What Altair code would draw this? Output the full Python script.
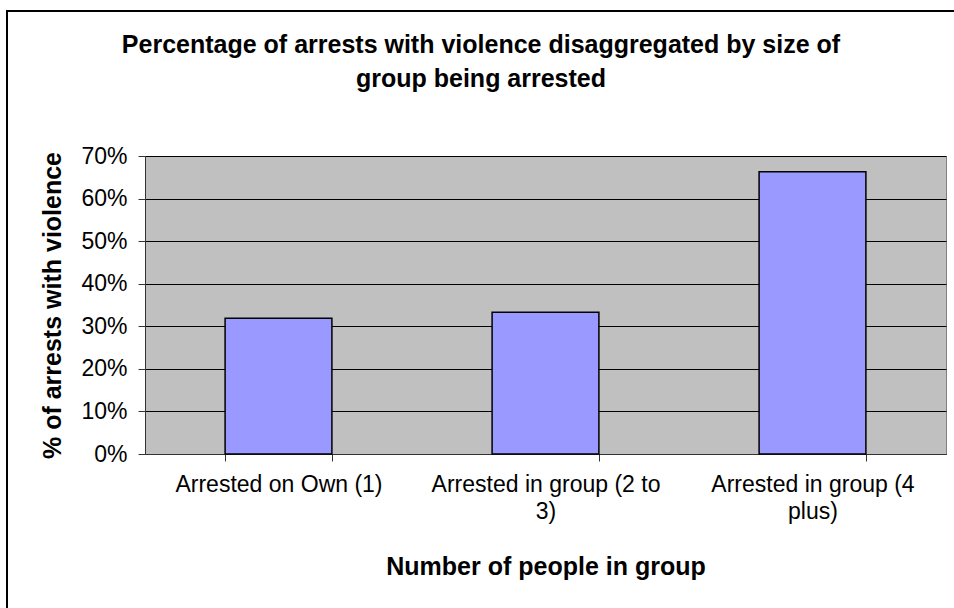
import json
import altair as alt
import pandas as pd

# ---- data ----
categories = ["Arrested on Own (1)", "Arrested in group (2 to 3)", "Arrested in group (4 plus)"]
label_lines = [["Arrested on Own (1)"], ["Arrested in group (2 to", "3)"], ["Arrested in group (4", "plus)"]]
values = [0.319, 0.333, 0.663]
y_ticks = [0.0, 0.1, 0.2, 0.3, 0.4, 0.5, 0.6, 0.7]
title_lines = ["Percentage of arrests with violence disaggregated by size of", "group being arrested"]
x_title = "Number of people in group"
y_title = "% of arrests with violence"

df = pd.DataFrame({"group": categories, "pct": values})

# label expression for wrapped category labels (empty for the extra extent tick)
expr = "''"
for cat, lines in reversed(list(zip(categories, label_lines))):
    expr = f"datum.value == {json.dumps(cat)} ? {json.dumps(lines)} : ({expr})"

FONT = "Liberation Sans"
W, H = 801, 298

bars = alt.Chart(df).mark_bar(color="#9999FF", stroke="black", strokeWidth=1.5).encode(
    x=alt.X(
        "group:N",
        sort=categories,
        scale=alt.Scale(paddingInner=0.6, paddingOuter=0.3),
        axis=alt.Axis(
            title=x_title,
            labelAngle=0,
            labelExpr=expr,
            labelFont=FONT,
            labelFontSize=23,
            labelLineHeight=27,
            labelPadding=12,
            labelLimit=400,
            labelColor="black",
            tickBand="extent",
            tickSize=7,
            tickColor="#333333",
            domainColor="#333333",
            grid=False,
            titleFont=FONT,
            titleFontSize=25,
            titleFontWeight="bold",
            titleColor="black",
            titleX=W / 2,
            titleY=112,
            titleBaseline="middle",
            titleAlign="center",
        ),
    ),
    y=alt.Y(
        "pct:Q",
        scale=alt.Scale(domain=[0, 0.7], nice=False),
        axis=alt.Axis(
            title=y_title,
            values=y_ticks,
            format=".0%",
            labelFont=FONT,
            labelFontSize=23,
            labelPadding=11,
            labelColor="black",
            tickSize=7,
            tickColor="#333333",
            domainColor="#333333",
            grid=True,
            gridColor="black",
            gridWidth=1,
            titleFont=FONT,
            titleFontSize=25,
            titleFontWeight="bold",
            titleColor="black",
            titleX=-93,
            titleY=H / 2,
            titleAngle=270,
            titleBaseline="middle",
            titleAlign="center",
        ),
    ),
)

one = alt.Data(values=[{"k": 1}])
frame_left = alt.Chart(one).mark_rule(color="black", strokeWidth=2).encode(
    x=alt.value(-138), y=alt.value(-146), y2=alt.value(470)
)
frame_top = alt.Chart(one).mark_rule(color="black", strokeWidth=2).encode(
    x=alt.value(-139), x2=alt.value(830), y=alt.value(-145)
)
title = alt.Chart(one).mark_text(
    text=title_lines,
    font=FONT,
    fontSize=25,
    fontWeight="bold",
    color="black",
    align="center",
    baseline="alphabetic",
    lineHeight=34,
).encode(x=alt.value(336), y=alt.value(-103))

chart = alt.layer(frame_left, frame_top, title, bars).properties(
    width=W,
    height=H,
    padding={"left": 145, "top": 156, "right": 8, "bottom": 154},
    autosize=alt.AutoSizeParams(type="none"),
    background="white",
).configure_view(fill="#C0C0C0", stroke="#808080", strokeWidth=1)

chart.save("out.html", embed_options={"renderer": "svg", "actions": False})
